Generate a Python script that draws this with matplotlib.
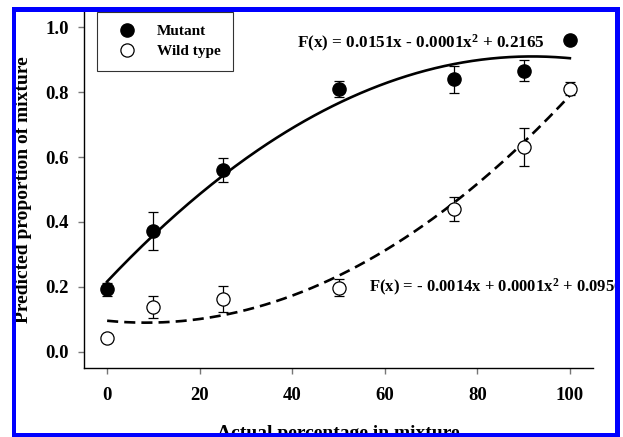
import matplotlib.pyplot as plt
import numpy as np
from matplotlib.patches import Rectangle

plt.rcParams['font.family'] = ['Liberation Serif', 'DejaVu Serif']
plt.rcParams['font.weight'] = 'bold'
plt.rcParams['mathtext.fontset'] = 'custom'
plt.rcParams['mathtext.rm'] = 'Liberation Serif:bold'
plt.rcParams['mathtext.it'] = 'Liberation Serif:bold'
plt.rcParams['mathtext.bf'] = 'Liberation Serif:bold'

# data
actual_pct = [0, 10, 25, 50, 75, 90, 100]
mutant_mean = [0.192, 0.373, 0.560, 0.810, 0.840, 0.866, 0.962]
mutant_err = [0.02, 0.058, 0.037, 0.025, 0.042, 0.033, 0.0]
wild_mean = [0.043, 0.137, 0.164, 0.198, 0.441, 0.630, 0.810]
wild_err = [0.0, 0.034, 0.040, 0.027, 0.037, 0.058, 0.02]

# quadratic fits (c0, c1, c2) - label text is rounded, c2 refined from the drawn curve
mutant_fit = [0.2165, 0.0151, -0.0000822]
wild_fit = [0.0956, -0.0014, 0.0000834]

mutant_label = r"F(x) = 0.0151x - 0.0001x$^2$ + 0.2165"
wild_label = r"F(x) = - 0.0014x + 0.0001x$^2$ + 0.0956"

W, H = 623, 437
fig = plt.figure(figsize=(W / 100, H / 100), dpi=100)
ax = fig.add_axes([84 / W, (H - 368) / H, (593 - 84) / W, (368 - 11) / H])

xs = np.linspace(0, 100, 200)
ax.plot(xs, np.polyval(mutant_fit[::-1], xs), color='black', lw=1.9, zorder=2)
ax.plot(xs, np.polyval(wild_fit[::-1], xs), color='black', lw=1.9,
        dashes=(4.2, 2.3), zorder=2)

ax.errorbar(actual_pct, mutant_mean, yerr=mutant_err, fmt='none', ecolor='black',
            elinewidth=0.9, capsize=3.8, capthick=0.9, zorder=3)
ax.errorbar(actual_pct, wild_mean, yerr=wild_err, fmt='none', ecolor='black',
            elinewidth=0.9, capsize=3.8, capthick=0.9, zorder=3)
ax.plot(actual_pct, mutant_mean, 'o', ms=9.5, color='black', label='Mutant', zorder=4)
ax.plot(actual_pct, wild_mean, 'o', ms=9.5, mfc='white', mec='black', mew=0.9,
        label='Wild type', zorder=4)

ax.set_xlim(-5, 105)
ax.set_ylim(-0.05, 1.05)
ax.set_xticks([0, 20, 40, 60, 80, 100])
ax.set_yticks([0.0, 0.2, 0.4, 0.6, 0.8, 1.0])
ax.set_yticklabels(['0.0', '0.2', '0.4', '0.6', '0.8', '1.0'])
ax.spines['top'].set_visible(False)
ax.spines['right'].set_visible(False)
for s in ['left', 'bottom']:
    ax.spines[s].set_linewidth(1.0)
ax.tick_params(direction='out', length=4, width=1, color='#777777', labelsize=13.5)
ax.tick_params(axis='y', pad=7)
ax.tick_params(axis='x', pad=10)

ax.text(41.0, 0.950, mutant_label, fontsize=12.3, va='center', ha='left')
ax.text(56.6, 0.198, wild_label, fontsize=12.0, va='center', ha='left', clip_on=False)

leg = ax.legend(loc='upper left', bbox_to_anchor=((97 - 84) / 509, (368 - 12) / 357),
                frameon=True, fancybox=False, fontsize=11, borderpad=0.8,
                handlelength=2.35, handletextpad=0.78, labelspacing=0.45,
                borderaxespad=0)
leg.get_frame().set_edgecolor('black')
leg.get_frame().set_linewidth(0.8)

fig.text(32 / W, 0.565, 'Predicted proportion of mixture', rotation=90,
         ha='right', va='center', fontsize=14)
fig.text(338 / W, (H - 425) / H, 'Actual percentage in mixture',
         ha='center', va='top', fontsize=14)

# white margins and blue frame around the picture
white = dict(facecolor='white', edgecolor='none', zorder=20, transform=fig.transFigure)
fig.add_artist(Rectangle((0, 0), 12 / W, 1, **white))
fig.add_artist(Rectangle((620 / W, 0), 3 / W, 1, **white))
fig.add_artist(Rectangle((0, (H - 7) / H), 1, 7 / H, **white))
blue = dict(facecolor='#0000ff', edgecolor='none', zorder=21, transform=fig.transFigure)
fig.add_artist(Rectangle((12 / W, 0), 4 / W, (H - 7) / H, **blue))
fig.add_artist(Rectangle((615 / W, 0), 5 / W, (H - 7) / H, **blue))
fig.add_artist(Rectangle((12 / W, (H - 12) / H), (620 - 12) / W, 5 / H, **blue))
fig.add_artist(Rectangle((12 / W, 0), (620 - 12) / W, 4 / H, **blue))

fig.savefig('out.png', dpi=100)
